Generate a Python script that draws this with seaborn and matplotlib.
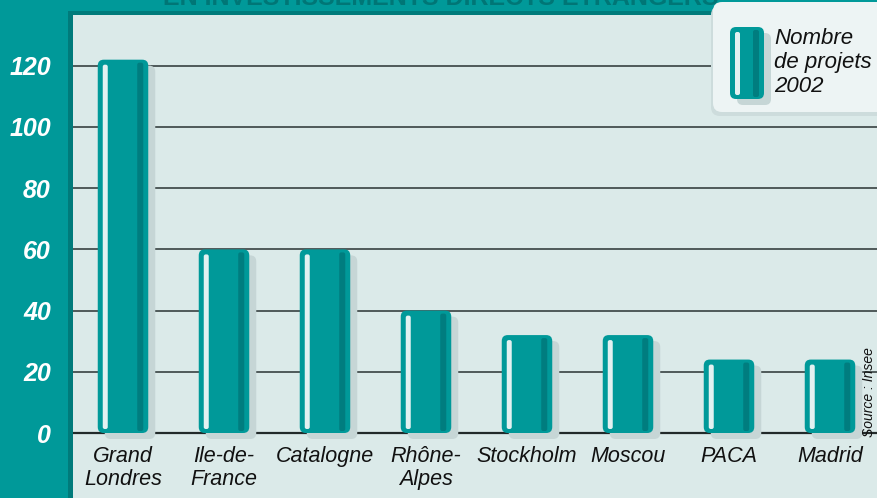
import numpy as np
import pandas as pd
import matplotlib
matplotlib.use("Agg")
import matplotlib.pyplot as plt
from matplotlib.patches import FancyBboxPatch, Rectangle
from matplotlib.transforms import IdentityTransform
import seaborn as sns

# données
regions = ["Grand\nLondres", "Ile-de-\nFrance", "Catalogne", "Rhône-\nAlpes",
           "Stockholm", "Moscou", "PACA", "Madrid"]
projets = [122, 60, 60, 40, 32, 32, 24, 24]
yticks = [0, 20, 40, 60, 80, 100, 120]

TEAL = "#009999"
DARK = "#007d7f"
LIGHT = "#e3f1f1"
SHADOW = "#c6d6d6"
PANEL = "#dbeae9"
BOX = "#edf4f4"

sns.set_theme(style="white")
plt.rcParams["font.family"] = ["Liberation Sans Narrow", "Liberation Sans", "DejaVu Sans"]

W, H = 877, 498
fig = plt.figure(figsize=(W / 100, H / 100), dpi=100, facecolor=TEAL)
ax_l, ax_top = 73, 15
ax = fig.add_axes([ax_l / W, 0, (W - ax_l) / W, (H - ax_top) / H])
ax.set_facecolor(PANEL)
for s in ax.spines.values():
    s.set_visible(False)

# bordure sombre du panneau
fig.patches.append(Rectangle((68 / W, 0), 5 / W, 1 - 11 / H, transform=fig.transFigure,
                             fc="#007b7b", ec="none", zorder=-1))
fig.patches.append(Rectangle((68 / W, 1 - 15 / H), 1, 4 / H, transform=fig.transFigure,
                             fc="#007b7b", ec="none", zorder=-1))

df = pd.DataFrame({"region": regions, "projets": projets})
sns.barplot(data=df, x="region", y="projets", width=0.5, color=TEAL, ax=ax)

# échelles : pixels par unité
px_x = 101.0
px_y = 3.06
ax.set_xlim(-50 / px_x, (W - ax_l - 50) / px_x)
ax.set_ylim(-65 / px_y, (H - ax_top - 65) / px_y)


def rbox(x, y, w, h, r, color, z, sx, sy, tr, add):
    p = FancyBboxPatch((x, y), w, h,
                       boxstyle=f"round,pad=0,rounding_size={r / sx}",
                       mutation_aspect=sx / sy, fc=color, ec="none",
                       transform=tr, zorder=z, clip_on=False)
    add(p)


def fancy_bar(x, y, w, h, sx, sy, tr, add, z=3):
    rbox(x + 7 / sx, y - 6 / sy, w, h, 6, SHADOW, z, sx, sy, tr, add)
    rbox(x, y, w, h, 6, TEAL, z + 0.1, sx, sy, tr, add)
    rbox(x + 5 / sx, y + 4 / sy, 5 / sx, h - 9 / sy, 2, LIGHT, z + 0.2, sx, sy, tr, add)
    rbox(x + w - 11 / sx, y + 2 / sy, 6 / sx, h - 5 / sy, 2, DARK, z + 0.2, sx, sy, tr, add)


for p in list(ax.patches):
    x, y, w, h = p.get_x(), p.get_y(), p.get_width(), p.get_height()
    p.set_visible(False)
    fancy_bar(x, y, w, h, px_x, px_y, ax.transData, ax.add_patch)

# lignes de grille
for t in yticks[1:]:
    ax.axhline(t, color="#4f5a5a", lw=1.4, zorder=1)
ax.axhline(0, color="#222a2a", lw=1.6, zorder=1)

# étiquettes
ax.set_xlabel("")
ax.set_ylabel("")
ax.set_xticks([])
ax.set_yticks(yticks)
ax.set_yticklabels([str(t) for t in yticks], color="white", fontweight="bold",
                   fontstyle="italic", fontsize=18, family=["Liberation Sans", "DejaVu Sans"])
ax.tick_params(axis="y", length=0, pad=16)
for i, r in enumerate(regions):
    ax.text(i, -4.2, r, ha="center", va="top", fontsize=15.5, fontstyle="italic",
            color="#111111", linespacing=1.15)

# légende
idt = IdentityTransform()
rbox(711, H - 116, 200, 110, 9, "#cddcdc", 5, 1, 1, idt, fig.patches.append)
rbox(713, H - 112, 200, 110, 9, BOX, 5.1, 1, 1, idt, fig.patches.append)
fancy_bar(730, H - 99, 34, 72, 1, 1, idt, fig.patches.append, z=5.2)
fig.text(774 / W, 1 - 28 / H, "Nombre\nde projets\n2002", ha="left", va="top",
         fontsize=16, fontstyle="italic", color="#111111", linespacing=1.2, zorder=6)

# titre coupé et source
fig.text(0.503, 1 - 5 / H, "EN INVESTISSEMENTS DIRECTS ÉTRANGERS", ha="center",
         va="baseline", fontsize=18, fontweight="bold", color="#007676",
         family=["Liberation Sans", "DejaVu Sans"])
fig.text(869 / W, 1 - 392 / H, "Source : Insee", rotation=90, ha="center", va="center",
         fontsize=10, fontstyle="italic", color="#111111")

fig.savefig("out.png", dpi=100, facecolor=TEAL)
